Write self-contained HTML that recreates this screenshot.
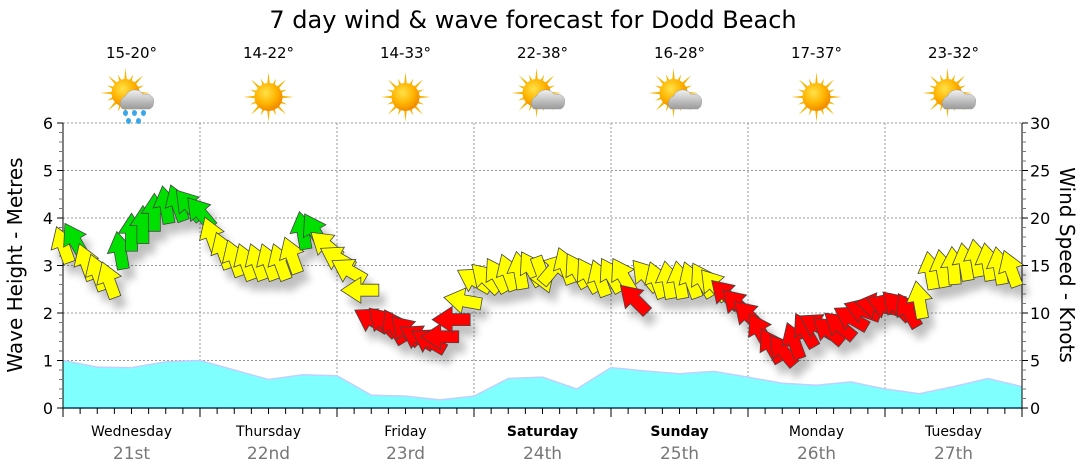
<!DOCTYPE html>
<html><head><meta charset="utf-8"><style>
body{margin:0;background:#fff;}
svg{display:block;font-family:"DejaVu Sans","Liberation Sans",sans-serif;}
</style></head><body>
<svg id="chart" width="1080" height="475" viewBox="0 0 1080 475">
<defs>
<radialGradient id="sunG" cx="40%" cy="35%" r="65%"><stop offset="0" stop-color="#ffe24a"/><stop offset="0.6" stop-color="#ffb400"/><stop offset="1" stop-color="#f08a00"/></radialGradient>
<linearGradient id="cloudG" x1="0" y1="0" x2="0" y2="1"><stop offset="0" stop-color="#f2f2f2"/><stop offset="1" stop-color="#9a9a9a"/></linearGradient>
<filter id="shadow" x="-50%" y="-50%" width="200%" height="200%"><feGaussianBlur in="SourceAlpha" stdDeviation="4"/><feOffset dx="6" dy="10"/><feComponentTransfer><feFuncA type="linear" slope="0.25"/></feComponentTransfer><feMerge><feMergeNode/><feMergeNode in="SourceGraphic"/></feMerge></filter>
</defs>
<text x="533" y="28" font-size="24" text-anchor="middle" fill="#000">7 day wind &amp; wave forecast for Dodd Beach</text>
<text transform="translate(22,265) rotate(-90)" font-size="20" text-anchor="middle">Wave Height - Metres</text>
<text transform="translate(1060,265) rotate(90)" font-size="20" text-anchor="middle">Wind Speed - Knots</text>
<text x="1015" y="401" font-size="10" text-anchor="end" fill="#a9c9d6">www.seabreeze.com.au</text>
<g id="grid"></g><g id="swell"></g><g id="axes"></g><g id="icons"></g><g id="wind" filter="url(#shadow)"></g>
</svg>
<script>
const days = ['Wednesday','Thursday','Friday','Saturday','Sunday','Monday','Tuesday'];
const dates = ['21st','22nd','23rd','24th','25th','26th','27th'];
const boldDays = [false,false,false,true,true,false,false];
const temps = ['15-20°','14-22°','14-33°','22-38°','16-28°','17-37°','23-32°'];
const weather = ['rain','sun','sun','cloud','cloud','sun','cloud'];
const leftTicks = [0,1,2,3,4,5,6];
const rightTicks = [0,5,10,15,20,25,30];
// swell height (m) every 6 hours
const swell = [1.0,0.86,0.85,0.97,1.0,0.8,0.6,0.7,0.68,0.27,0.25,0.17,0.25,0.62,0.65,0.4,0.85,0.78,0.72,0.77,0.65,0.52,0.48,0.55,0.4,0.3,0.45,0.62,0.45];
// wind speed (knots) every 2 hours
const windSpeed = [17.2,17.7,15.4,14.3,13.5,16.6,18.5,19.3,20.6,21.4,21.6,21.4,
 20.6,18.2,16.6,15.8,15.4,15.4,15.4,15.4,16.1,18.7,18.7,17.2,
 15.8,14.5,12.4,9.3,9.1,8.6,8.2,7.5,7.1,7.5,9.3,11.3,
 13.5,13.7,14,14.3,14.5,14.7,14,14.7,15,14.5,14,13.7,
 14,14,11.5,14,13.5,13.5,13.5,13.5,13.5,13,12,11,
 9.8,8.2,6.6,6.1,7.1,8.2,8.7,8.2,8.7,9.5,10.3,10.8,
 10.8,10.8,10.3,11.4,14.5,14.7,15,15.4,15.8,15.4,15,14.7];
// arrow direction, degrees clockwise from pointing up
const windDir = [-20,-30,-20,-20,-20,-10,0,0,0,-10,-20,-40,
 -40,-20,-20,-20,-20,-20,-20,-20,-20,-10,-30,-50,
 -60,-60,-90,-60,-45,-30,-45,-60,-60,-90,-90,-80,
 -60,-45,-30,-20,-10,-30,160,40,-20,-30,-30,-20,
 -30,-30,-45,-40,-20,-10,-10,-20,-30,-40,-45,-45,
 -45,-30,-30,-40,-20,-30,-60,-50,-50,-60,-70,-80,
 -70,-45,-30,-10,-10,-10,-5,-10,-10,-10,-10,-20];
const windCat = 'YGYYYGGGGGGG'+'GYYYYYYYYGGY'+'YYYRRRRRRRRY'+'YYYYYYYYYYYY'+'YYRYYYYYYYRR'+'RRRRRRRRRRRR'+'RRRYYYYYYYYY';
const NS='http://www.w3.org/2000/svg';
const X0=63,X1=1022,Y0=408,Y1=123;
const xHour=h=>X0+(X1-X0)*h/168;
const yM=m=>Y0-(Y0-Y1)*m/6;
const yK=k=>Y0-(Y0-Y1)*k/30;
function mk(tag,attrs,parent){const e=document.createElementNS(NS,tag);for(const k in attrs)e.setAttribute(k,attrs[k]);parent.appendChild(e);return e;}
const grid=document.getElementById('grid'),axes=document.getElementById('axes');
for(const t of leftTicks){ if(t===0)continue;
 const l=mk('line',{x1:X0,x2:X1,y1:yM(t),y2:yM(t),stroke:'#999','stroke-dasharray':'2,2'},grid);
 
 }
for(let d=1;d<7;d++){const l=mk('line',{x1:xHour(d*24),x2:xHour(d*24),y1:Y1,y2:Y0,stroke:'#999','stroke-dasharray':'2,2'},grid);
 
 }
let pts=swell.map((v,i)=>xHour(i*6)+','+yM(v));
const area=mk('polygon',{points:X0+','+Y0+' '+pts.join(' ')+' '+X1+','+Y0,fill:'#80ffff'},document.getElementById('swell'));


const sl=mk('polyline',{points:pts.join(' '),fill:'none',stroke:'#c0d0ff','stroke-width':1.5},document.getElementById('swell'));


mk('line',{x1:X0,x2:X0,y1:Y1,y2:Y0,stroke:'#000'},axes);
mk('line',{x1:X1,x2:X1,y1:Y1,y2:Y0,stroke:'#000'},axes);
mk('line',{x1:X0,x2:X1,y1:Y0,y2:Y0,stroke:'#0a3a5a','stroke-width':1.5},axes);
for(let i=0;i<=30;i++){const m=i/5;mk('line',{x1:X0-(i%5?4:6),x2:X0,y1:yM(m),y2:yM(m),stroke:i%5?'#777':'#000'},axes);}
for(const t of leftTicks){const tx=mk('text',{x:X0-10,y:yM(t)+6,'font-size':16,'text-anchor':'end'},axes);tx.textContent=t;
 
 }
for(let k=0;k<=30;k++){mk('line',{x1:X1,x2:X1+(k%5?4:6),y1:yK(k),y2:yK(k),stroke:k%5?'#777':'#000'},axes);}
for(const t of rightTicks){const tx=mk('text',{x:X1+8,y:yK(t)+6,'font-size':16},axes);tx.textContent=t;
 
 }
for(let h=0;h<=168;h+=3){mk('line',{x1:xHour(h),x2:xHour(h),y1:Y0,y2:Y0+(h%24?6:9),stroke:'#000'},axes);}
const icons=document.getElementById('icons');
days.forEach((d,i)=>{const cx=xHour(i*24+12);
 const a=mk('text',{x:cx,y:436,'font-size':14,'text-anchor':'middle','font-weight':boldDays[i]?'bold':'normal'},axes);a.textContent=d;
 
 
 const b=mk('text',{x:cx,y:459,'font-size':17,'text-anchor':'middle',fill:'#777'},axes);b.textContent=dates[i];
 
 
 const t=mk('text',{x:cx,y:58,'font-size':15,'text-anchor':'middle'},icons);t.textContent=temps[i];
 
 
 const g=mk('g',{transform:'translate('+cx+',97)'},icons);
 
 
 const sx=weather[i]==='sun'?0:-6,sy=weather[i]==='sun'?0:-4;
 let rays='';for(let r=0;r<16;r++){const an=r*Math.PI/8,L=r%2?20:25;
  rays+=`M${sx+Math.cos(an-0.12)*12},${sy+Math.sin(an-0.12)*12}L${sx+Math.cos(an)*L},${sy+Math.sin(an)*L}L${sx+Math.cos(an+0.12)*12},${sy+Math.sin(an+0.12)*12}Z`;}
 mk('path',{d:rays,fill:'#f6b400'},g);
 mk('circle',{cx:sx,cy:sy,r:14,fill:'url(#sunG)'},g);
 if(weather[i]!=='sun'){
  mk('path',{d:'M-9,12 A8,8 0 0 1 -6,-1 A10,10 0 0 1 12,-2 A7,7 0 0 1 22,6 A6,6 0 0 1 18,12 Z',fill:'url(#cloudG)',stroke:'#999','stroke-width':0.5},g);}
 if(weather[i]==='rain'){for(const [dx,dy] of [[-6,16],[3,16],[12,16],[-3,24],[7,24]])mk('ellipse',{cx:dx,cy:dy,rx:2.5,ry:3,fill:'#3aa8e8'},g);}
});
const wind=document.getElementById('wind');
const col={Y:'#ffff00',G:'#00e000',R:'#ff0000'};
windSpeed.forEach((k,i)=>{const x=xHour(i*2),y=yK(k);
 const p=mk('polygon',{points:'-6,19 6,19 6,1 13,1 0,-19 -13,1 -6,1',fill:col[windCat[i]],stroke:'#444','stroke-width':0.8,transform:`translate(${x},${y}) rotate(${windDir[i]})`},wind);
 
 
});
</script>
</body></html>
